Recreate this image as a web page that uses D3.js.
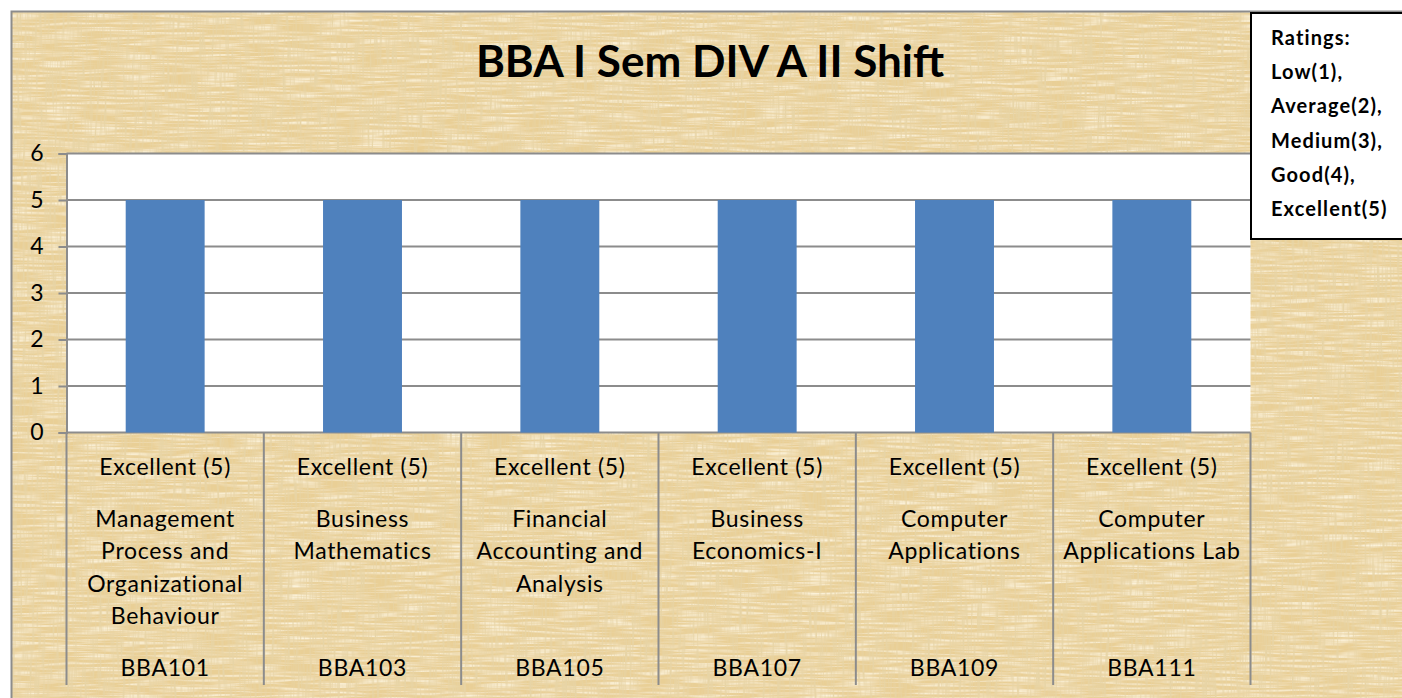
<!DOCTYPE html>
<html>
<head>
<meta charset="utf-8">
<script src="https://cdn.jsdelivr.net/npm/d3@7"></script>
<style>
  html, body { margin: 0; padding: 0; background: #fff; }
  svg { display: block; font-family: Lato, "Open Sans", sans-serif; }
</style>
</head>
<body>
<svg id="chart" width="1402" height="698"></svg>
<script>
// chart data
const codes = ["BBA101", "BBA103", "BBA105", "BBA107", "BBA109", "BBA111"];
const subjects = [
  "Management\nProcess and\nOrganizational\nBehaviour",
  "Business\nMathematics",
  "Financial\nAccounting and\nAnalysis",
  "Business\nEconomics-I",
  "Computer\nApplications",
  "Computer\nApplications Lab"
];
const ratingLabels = ["Excellent (5)", "Excellent (5)", "Excellent (5)", "Excellent (5)", "Excellent (5)", "Excellent (5)"];
const values = [5, 5, 5, 5, 5, 5];
const yTicks = [0, 1, 2, 3, 4, 5, 6];
const titleText = "BBA I Sem DIV A II Shift";
const legendLines = ["Ratings:", "Low(1),", "Average(2),", "Medium(3),", "Good(4),", "Excellent(5)"];

const svg = d3.select("#chart");
const W = 1402, H = 698;
const plot = {left: 66.5, right: 1250.5, top: 153.5, bottom: 432.5};

// parchment-like background: vertical darker fibres + horizontal lighter ones
const defs = svg.append("defs");
const f = defs.append("filter").attr("id", "paper")
  .attr("x", 0).attr("y", 0).attr("width", "100%").attr("height", "100%");
f.append("feTurbulence").attr("type", "fractalNoise")
  .attr("baseFrequency", "0.4 0.03").attr("numOctaves", 3).attr("seed", 7).attr("result", "n1");
f.append("feColorMatrix").attr("in", "n1").attr("type", "matrix")
  .attr("values", "0 0 0 0 0.80  0 0 0 0 0.66  0 0 0 0 0.38  2.4 0 0 0 -0.95").attr("result", "c1");
f.append("feTurbulence").attr("type", "fractalNoise")
  .attr("baseFrequency", "0.025 0.4").attr("numOctaves", 2).attr("seed", 3).attr("result", "n2");
f.append("feColorMatrix").attr("in", "n2").attr("type", "matrix")
  .attr("values", "0 0 0 0 0.97  0 0 0 0 0.89  0 0 0 0 0.70  2.2 0 0 0 -0.9").attr("result", "c2");
f.append("feFlood").attr("flood-color", "#e9cf96").attr("result", "base");
f.append("feComposite").attr("in", "c2").attr("in2", "base").attr("operator", "over").attr("result", "b1");
f.append("feComposite").attr("in", "c1").attr("in2", "b1").attr("operator", "over").attr("result", "b2");
f.append("feComposite").attr("in", "b2").attr("in2", "SourceGraphic").attr("operator", "in");

svg.append("rect")
  .attr("x", 11).attr("y", 11).attr("width", W - 11).attr("height", H - 11)
  .attr("fill", "#e9cf96").attr("filter", "url(#paper)");
svg.append("path")
  .attr("d", `M11.5,${H} V11.5 H${W}`)
  .attr("fill", "none").attr("stroke", "#8c8c8c").attr("stroke-width", 2);

// scales
const x = d3.scaleBand().domain(codes).range([plot.left, plot.right]).paddingInner(0.6).paddingOuter(0.3);
const xOuter = d3.scaleBand().domain(codes).range([plot.left, plot.right]);
const y = d3.scaleLinear().domain([0, 6]).range([plot.bottom, plot.top]);

svg.append("rect")
  .attr("x", plot.left).attr("y", plot.top)
  .attr("width", plot.right - plot.left).attr("height", plot.bottom - plot.top)
  .attr("fill", "#fff");

// gridlines + y axis
const yAxis = svg.append("g")
  .attr("transform", `translate(${plot.left},0)`)
  .call(d3.axisLeft(y).tickValues(yTicks).tickSize(8).tickPadding(15).tickFormat(d3.format("d")));
yAxis.select(".domain").attr("stroke", "#8c8c8c").attr("stroke-width", 2);
yAxis.selectAll(".tick line").attr("stroke", "#8c8c8c").attr("stroke-width", 2);
yAxis.selectAll(".tick text").attr("font-size", 23).attr("fill", "#000")
  .attr("font-family", "Lato, sans-serif");

svg.append("g").selectAll("line").data(yTicks).join("line")
  .attr("x1", plot.left).attr("x2", plot.right)
  .attr("y1", d => y(d)).attr("y2", d => y(d))
  .attr("stroke", "#8c8c8c").attr("stroke-width", 2);

// bars
svg.append("g").selectAll("rect").data(values).join("rect")
  .attr("x", (d, i) => x(codes[i]))
  .attr("width", x.bandwidth())
  .attr("y", d => y(d))
  .attr("height", d => y(0) - y(d))
  .attr("fill", "#4f81bd");

// multi-level category axis
const catAxis = svg.append("g").attr("font-size", 23).attr("letter-spacing", "0.7px");
const dividers = codes.map(c => xOuter(c)).concat([plot.right]);
catAxis.selectAll("line").data(dividers).join("line")
  .attr("x1", d => d).attr("x2", d => d)
  .attr("y1", plot.bottom).attr("y2", 685)
  .attr("stroke", "#8c8c8c").attr("stroke-width", 2);

const cx = c => xOuter(c) + xOuter.bandwidth() / 2;
catAxis.selectAll("text.rating").data(ratingLabels).join("text")
  .attr("class", "rating")
  .attr("x", (d, i) => cx(codes[i])).attr("y", 475)
  .attr("text-anchor", "middle").text(d => d);

catAxis.selectAll("text.subject").data(subjects).join("text")
  .attr("class", "subject")
  .attr("text-anchor", "middle")
  .each(function(d, i) {
    d3.select(this).selectAll("tspan").data(d.split("\n")).join("tspan")
      .attr("x", cx(codes[i])).attr("y", (l, j) => 527 + j * 32.3).text(l => l);
  });

catAxis.selectAll("text.code").data(codes).join("text")
  .attr("class", "code")
  .attr("x", d => cx(d)).attr("y", 676)
  .attr("text-anchor", "middle").text(d => d);

// title
svg.append("text")
  .attr("x", 710).attr("y", 77)
  .attr("text-anchor", "middle").attr("font-size", 44).attr("font-weight", "bold")
  .text(titleText);

// ratings note box
svg.append("rect")
  .attr("x", 1251).attr("y", 13).attr("width", 160).attr("height", 226)
  .attr("fill", "#fff").attr("stroke", "#000").attr("stroke-width", 2);
svg.append("g").selectAll("text").data(legendLines).join("text")
  .attr("x", 1271).attr("y", (d, i) => 45 + i * 34.2)
  .attr("font-size", 20).attr("font-weight", "bold").attr("letter-spacing", "1.1px")
  .text(d => d);
</script>
</body>
</html>
